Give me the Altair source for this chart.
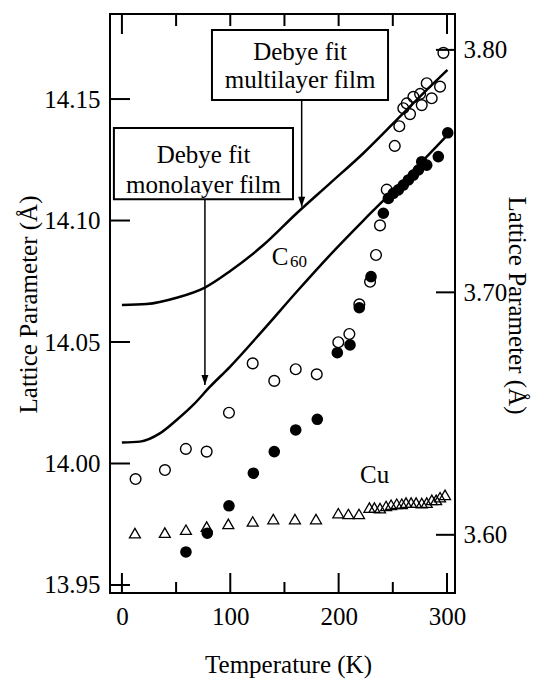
import altair as alt
import pandas as pd

# ---------------- data ----------------
open_T = [12.6, 39.7, 59.0, 78.2, 98.8, 120.7, 140.6, 160.4, 179.8, 199.7, 209.9,
          219.1, 229.0, 234.5, 238.2, 244.4, 251.8, 256.0, 259.7, 262.9, 265.9,
          269.0, 275.2, 276.7, 281.3, 285.9, 293.6, 296.7]
open_v = [13.9936, 13.9973, 14.0060, 14.0049, 14.0209, 14.0412, 14.0340, 14.0388,
          14.0367, 14.0499, 14.0533, 14.0655, 14.0748, 14.0858, 14.0980, 14.1127,
          14.1307, 14.1388, 14.1462, 14.1482, 14.1438, 14.1509, 14.1521, 14.1475,
          14.1565, 14.1503, 14.1551, 14.1690]

filled_T = [59.1, 78.8, 98.8, 121.3, 140.6, 160.4, 180.3, 198.8, 210.5, 219.1, 229.9,
            241.3, 245.9, 250.5, 255.1, 259.7, 264.4, 269.0, 273.6, 276.7, 281.3,
            292.0, 300.7]
filled_v = [13.9636, 13.9713, 13.9826, 13.9960, 14.0049, 14.0138, 14.0182, 14.0456,
            14.0488, 14.0641, 14.0769, 14.1030, 14.1091, 14.1112, 14.1126, 14.1146,
            14.1167, 14.1187, 14.1208, 14.1242, 14.1228, 14.1263, 14.1361]

cu_T = [12.0, 39.6, 59.1, 78.2, 98.2, 120.7, 139.7, 159.7, 179.1, 199.7, 209.0, 218.8,
        228.4, 233.0, 238.2, 243.8, 248.4, 253.6, 258.3, 262.2, 266.9, 271.5, 276.7,
        281.3, 286.0, 290.0, 293.6, 298.2]
cu_a = [3.6007, 3.6009, 3.6021, 3.6034, 3.6045, 3.6055, 3.6065, 3.6065, 3.6065,
        3.6089, 3.6086, 3.6086, 3.6112, 3.6112, 3.6110, 3.6119, 3.6124, 3.6128,
        3.6128, 3.6133, 3.6133, 3.6133, 3.6131, 3.6133, 3.6144, 3.6144, 3.6155, 3.6165]

multi_T = [0, 22.8, 50.5, 76.6, 100.0, 130.5, 161.3, 192.0, 222.8, 253.6, 284.4, 300.4]
multi_v = [14.0652, 14.0656, 14.0682, 14.0724, 14.0792, 14.0899, 14.1030, 14.1153,
           14.1277, 14.1414, 14.1551, 14.1620]

mono_T = [0, 16.6, 35.0, 50.5, 65.8, 81.3, 99.7, 130.5, 161.3, 192.0, 222.8, 260.0, 301.0]
mono_v = [14.0086, 14.0090, 14.0124, 14.0179, 14.0241, 14.0316, 14.0398, 14.0550,
          14.0707, 14.0858, 14.1000, 14.1165, 14.1355]

x_labels = [0, 100, 200, 300]
x_minor = [50, 150, 250]
top_long = [0, 300]
top_short = [50, 100, 150, 200, 250]
left_ticks = [13.95, 14.00, 14.05, 14.10, 14.15]
right_ticks = [3.60, 3.70, 3.80]

# annotation boxes (data units)
box_x0 = [83.1, -7.4]
box_x1 = [245.6, 157.9]
box_y0 = [14.1496, 14.1088]
box_y1 = [14.1784, 14.1381]
box_text = ["Debye fit", "multilayer film", "Debye fit", "monolayer film"]
box_text_T = [164.4, 164.4, 75.3, 75.3]
box_text_v = [14.1660, 14.1545, 14.1237, 14.1115]

arrow_T = [165.9, 76.6]
arrow_from = [14.1496, 14.1088]
arrow_to = [14.1057, 14.0323]

label_text = ["C", "Cu"]
label_T = [138.3, 219.8]
label_v = [14.0817, 13.9920]
sub_text = ["60"]
sub_T = [155.1]
sub_v = [14.0809]

# ---------------- chart ----------------
FONT = "Liberation Serif"
W, H = 345, 579

xs = alt.Scale(domain=[-11, 307.4], nice=False, zero=False)
yl = alt.Scale(domain=[13.9467, 14.185], nice=False, zero=False)
yr = alt.Scale(domain=[3.576, 3.8148], nice=False, zero=False)

common = dict(ticks=False, tickSize=0, domain=False, grid=False,
              labelFont=FONT, labelFontSize=25, labelColor="black",
              titleFont=FONT, titleFontSize=25, titleFontWeight="normal",
              titleColor="black", titleBaseline="middle", titleAlign="center")

x_axis = alt.Axis(values=x_labels, labelPadding=11, title="Temperature (K)",
                  titleX=178, titleY=71, **common)
yl_axis = alt.Axis(values=left_ticks, format=".2f", labelPadding=10,
                   title="Lattice Parameter (Å)", titleAngle=-90, titleX=-82, titleY=290,
                   **common)
yr_axis = alt.Axis(orient="right", values=right_ticks, format=".2f", labelPadding=8,
                   title="Lattice Parameter (Å)", titleAngle=90, titleX=61, titleY=291,
                   **common)


def X(f):
    return alt.X(f"{f}:Q", scale=xs, axis=x_axis)


def YL(f):
    return alt.Y(f"{f}:Q", scale=yl, axis=yl_axis)


def YR(f):
    return alt.Y(f"{f}:Q", scale=yr, axis=yr_axis)


df_open = pd.DataFrame({"T": open_T, "v": open_v})
df_fill = pd.DataFrame({"T": filled_T, "v": filled_v})
df_cu = pd.DataFrame({"T": cu_T, "a": cu_a})
df_multi = pd.DataFrame({"T": multi_T, "v": multi_v})
df_mono = pd.DataFrame({"T": mono_T, "v": mono_v})
df_box = pd.DataFrame({"x0": box_x0, "x1": box_x1, "y0": box_y0, "y1": box_y1})
df_btext = pd.DataFrame({"T": box_text_T, "v": box_text_v, "t": box_text})
df_arrow = pd.DataFrame({"T": arrow_T, "v0": arrow_from, "v1": arrow_to})
df_lab = pd.DataFrame({"T": label_T, "v": label_v, "t": label_text})
df_sub = pd.DataFrame({"T": sub_T, "v": sub_v, "t": sub_text})

lines = [
    alt.Chart(d).mark_line(color="black", strokeWidth=2.5, interpolate="monotone")
    .encode(x=X("T"), y=YL("v"))
    for d in (df_multi, df_mono)
]

open_pts = alt.Chart(df_open).mark_point(shape="circle", filled=False, color="black",
                                          size=115, strokeWidth=1.4, opacity=1).encode(
    x=X("T"), y=YL("v"))
fill_pts = alt.Chart(df_fill).mark_point(shape="circle", filled=True, color="black",
                                          size=135, opacity=1).encode(
    x=X("T"), y=YL("v"))

boxes = alt.Chart(df_box).mark_rect(fill="white", stroke="black", strokeWidth=2).encode(
    x=X("x0"), x2=alt.X2("x1:Q"), y=YL("y0"), y2=alt.Y2("y1:Q"))
btext = alt.Chart(df_btext).mark_text(font=FONT, fontSize=25, align="center",
                                      baseline="alphabetic", color="black").encode(
    x=X("T"), y=YL("v"), text="t:N")
shafts = alt.Chart(df_arrow).mark_rule(color="black", strokeWidth=1.5).encode(
    x=X("T"), y=YL("v0"), y2=alt.Y2("v1:Q"))
heads = alt.Chart(df_arrow).mark_point(shape="M -0.35 -1 L 0.35 -1 L 0 0 Z", size=400,
                                       filled=True, color="black", opacity=1).encode(
    x=X("T"), y=YL("v1"))
labels = alt.Chart(df_lab).mark_text(font=FONT, fontSize=25, align="left",
                                     baseline="alphabetic", color="black").encode(
    x=X("T"), y=YL("v"), text="t:N")
subs = alt.Chart(df_sub).mark_text(font=FONT, fontSize=17, align="left",
                                   baseline="alphabetic", color="black").encode(
    x=X("T"), y=YL("v"), text="t:N")

# tick marks (drawn inward)
df_lt = pd.DataFrame({"v": left_ticks})
df_bl = pd.DataFrame({"T": x_labels})
df_bm = pd.DataFrame({"T": x_minor})
df_tl = pd.DataFrame({"T": top_long})
df_ts = pd.DataFrame({"T": top_short})
df_rt = pd.DataFrame({"a": right_ticks})

tick_left = alt.Chart(df_lt).mark_rule(color="black", strokeWidth=2).encode(
    y=YL("v"), x=alt.value(0), x2=alt.value(20))
tick_bmaj = alt.Chart(df_bl).mark_rule(color="black", strokeWidth=2).encode(
    x=X("T"), y=alt.value(H), y2=alt.value(H - 20))
tick_bmin = alt.Chart(df_bm).mark_rule(color="black", strokeWidth=2).encode(
    x=X("T"), y=alt.value(H), y2=alt.value(H - 11))
tick_tl = alt.Chart(df_tl).mark_rule(color="black", strokeWidth=2).encode(
    x=X("T"), y=alt.value(0), y2=alt.value(20))
tick_ts = alt.Chart(df_ts).mark_rule(color="black", strokeWidth=2).encode(
    x=X("T"), y=alt.value(0), y2=alt.value(12))
tick_right = alt.Chart(df_rt).mark_rule(color="black", strokeWidth=2).encode(
    y=YR("a"), x=alt.value(W - 19), x2=alt.value(W))

cu_pts = alt.Chart(df_cu).mark_point(shape="triangle-up", filled=False, color="black",
                                      size=120, strokeWidth=1.3, opacity=1).encode(
    x=X("T"), y=YR("a"))

left_group = alt.layer(*lines, open_pts, fill_pts, shafts, heads, boxes, btext, labels, subs,
                       tick_left, tick_bmaj, tick_bmin, tick_tl, tick_ts)
right_group = alt.layer(cu_pts, tick_right)

chart = alt.layer(left_group, right_group).resolve_scale(y="independent").properties(
    width=W, height=H,
    background="white",
    autosize=alt.AutoSizeParams(type="none"),
    padding={"left": 102, "top": 6, "right": 76, "bottom": 86},
).configure_view(stroke="black", strokeWidth=2)

chart.save("out.html", embed_options={"renderer": "svg", "actions": False})
